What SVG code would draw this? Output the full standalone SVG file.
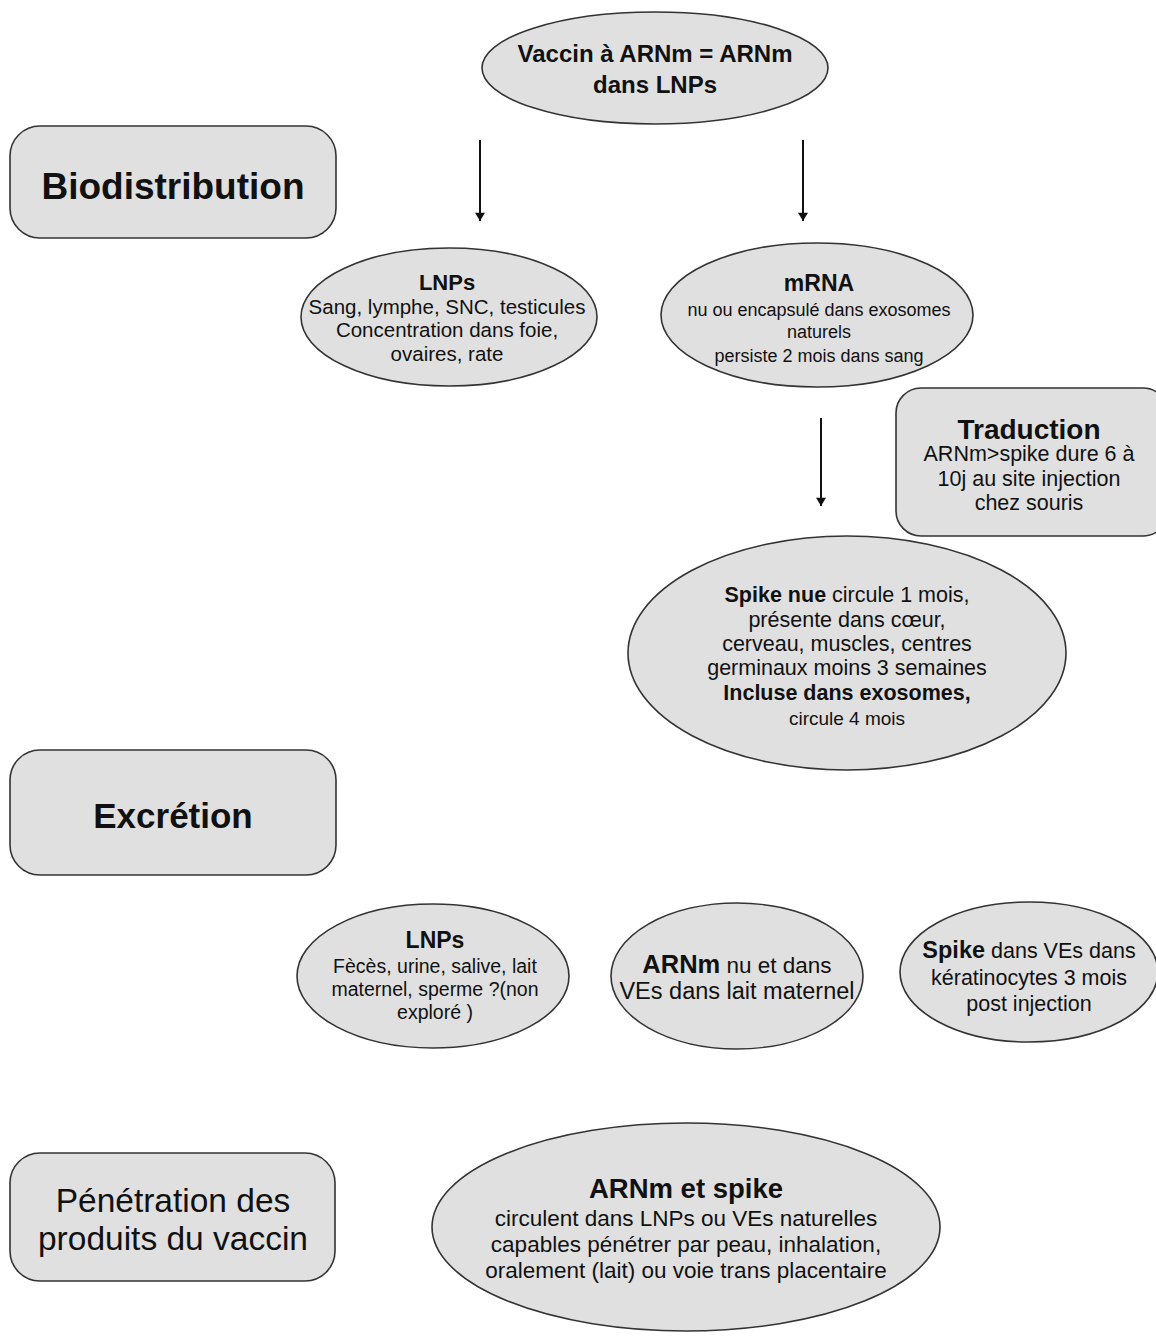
<svg xmlns="http://www.w3.org/2000/svg" width="1156" height="1336" viewBox="0 0 1156 1336">
<defs>
<marker id="ah" viewBox="0 0 10 12" refX="10" refY="6" markerWidth="12" markerHeight="10" markerUnits="userSpaceOnUse" orient="auto">
<path d="M0,0 L10,6 L0,12 z" fill="#111"/>
</marker>
<style>
.n{fill:#e0e0e0;stroke:#333;stroke-width:1.6}
.t{font-family:"Liberation Sans",Arial,sans-serif;fill:#111;text-anchor:middle}
.b{font-weight:bold}
.c{stroke:#111;stroke-width:2;fill:none}
</style>
</defs>
<rect width="1156" height="1336" fill="#fff"/>

<g id="vaccin">
<ellipse class="n" cx="655" cy="68" rx="173" ry="56"/>
<text class="t b" x="655" y="62" font-size="24">Vaccin à ARNm = ARNm</text>
<text class="t b" x="655" y="93" font-size="24">dans LNPs</text>
</g>

<g id="biodistribution">
<rect class="n" x="10" y="126" width="326" height="112" rx="30"/>
<text class="t b" x="173" y="199" font-size="37">Biodistribution</text>
</g>

<g id="lnps1">
<ellipse class="n" cx="449" cy="317" rx="148" ry="69"/>
<text class="t b" x="447" y="290" font-size="22">LNPs</text>
<text class="t" x="447" y="314" font-size="20.5">Sang, lymphe, SNC, testicules</text>
<text class="t" x="447" y="337" font-size="20.5">Concentration dans foie,</text>
<text class="t" x="447" y="361" font-size="20.5">ovaires, rate</text>
</g>

<g id="mrna">
<ellipse class="n" cx="817" cy="315" rx="156" ry="72"/>
<text class="t b" x="819" y="291" font-size="23">mRNA</text>
<text class="t" x="819" y="316" font-size="18">nu ou encapsulé dans exosomes</text>
<text class="t" x="819" y="338" font-size="18">naturels</text>
<text class="t" x="819" y="362" font-size="18">persiste 2 mois dans sang</text>
</g>

<g id="traduction">
<rect class="n" x="896" y="388" width="272" height="148" rx="25"/>
<text class="t b" x="1029" y="439" font-size="28">Traduction</text>
<text class="t" x="1029" y="461" font-size="21.5">ARNm&gt;spike dure 6 à</text>
<text class="t" x="1029" y="486" font-size="21.5">10j au site injection</text>
<text class="t" x="1029" y="510" font-size="21.5">chez souris</text>
</g>

<g id="spike">
<ellipse class="n" cx="847" cy="653" rx="219" ry="117"/>
<text class="t" x="847" y="602" font-size="21.5"><tspan class="b">Spike nue</tspan> circule 1 mois,</text>
<text class="t" x="847" y="627" font-size="21.5">présente dans cœur,</text>
<text class="t" x="847" y="651" font-size="21.5">cerveau, muscles, centres</text>
<text class="t" x="847" y="675" font-size="21.5">germinaux moins 3 semaines</text>
<text class="t b" x="847" y="700" font-size="21.5">Incluse dans exosomes,</text>
<text class="t" x="847" y="725" font-size="19">circule 4 mois</text>
</g>

<g id="excretion">
<rect class="n" x="10" y="750" width="326" height="125" rx="30"/>
<text class="t b" x="173" y="828" font-size="35">Excrétion</text>
</g>

<g id="lnps2">
<ellipse class="n" cx="433" cy="976" rx="136" ry="72"/>
<text class="t b" x="435" y="948" font-size="23">LNPs</text>
<text class="t" x="435" y="973" font-size="19.5">Fècès, urine, salive, lait</text>
<text class="t" x="435" y="996" font-size="19.5">maternel, sperme ?(non</text>
<text class="t" x="435" y="1019" font-size="19.5">exploré )</text>
</g>

<g id="arnm">
<ellipse class="n" cx="737" cy="976" rx="126" ry="73"/>
<text class="t" x="737" y="973" font-size="22.5"><tspan class="b" font-size="25.5">ARNm</tspan> nu et dans</text>
<text class="t" x="737" y="999" font-size="23.5">VEs dans lait maternel</text>
</g>

<g id="spike2">
<ellipse class="n" cx="1029" cy="972" rx="129" ry="70"/>
<text class="t" x="1029" y="958" font-size="21.5"><tspan class="b" font-size="23.5">Spike</tspan> dans VEs dans</text>
<text class="t" x="1029" y="985" font-size="21.5">kératinocytes 3 mois</text>
<text class="t" x="1029" y="1011" font-size="21.5">post injection</text>
</g>

<g id="penetration">
<rect class="n" x="10" y="1153" width="325" height="128" rx="30"/>
<text class="t" x="173" y="1212" font-size="33.5">Pénétration des</text>
<text class="t" x="173" y="1250" font-size="33.5">produits du vaccin</text>
</g>

<g id="arnm-spike">
<ellipse class="n" cx="686" cy="1227" rx="254" ry="104"/>
<text class="t b" x="686" y="1198" font-size="27.5">ARNm et spike</text>
<text class="t" x="686" y="1226" font-size="22.5">circulent dans LNPs ou VEs naturelles</text>
<text class="t" x="686" y="1252" font-size="22.5">capables pénétrer par peau, inhalation,</text>
<text class="t" x="686" y="1278" font-size="22.5">oralement (lait) ou voie trans placentaire</text>
</g>

<g id="connectors">
<line class="c" x1="480" y1="140" x2="480" y2="221" marker-end="url(#ah)"/>
<line class="c" x1="803" y1="140" x2="803" y2="221" marker-end="url(#ah)"/>
<line class="c" x1="821" y1="418" x2="821" y2="506" marker-end="url(#ah)"/>
</g>
</svg>
